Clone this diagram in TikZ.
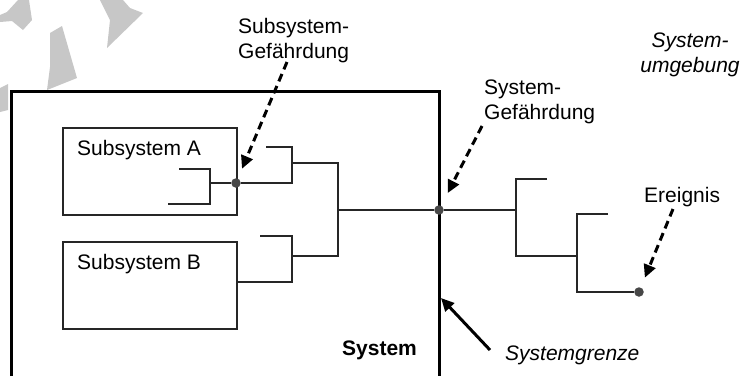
\documentclass[tikz,border=0pt]{standalone}
\usepackage{fontspec}
\setmainfont{Liberation Sans}
\usetikzlibrary{arrows.meta}
\begin{document}
\begin{tikzpicture}[x=1pt,y=-1pt,
  wire/.style={line width=1.6pt, draw=black!85},
  boxstyle/.style={draw=black!85, line width=1.8pt, inner sep=0pt, anchor=north west},
  dot/.style={circle, fill=black!72, inner sep=0pt, minimum size=9.5pt},
  hazard/.style={line width=3pt, dash pattern=on 8pt off 5pt, shorten >=#1, -{Triangle[length=13pt,width=12pt]}},
  lbl/.style={inner sep=0pt, font=\fontsize{21}{25}\selectfont},
  watermark/.style={fill=black!22}]
\useasboundingbox (0,0) rectangle (740,376);
% watermark
\fill[watermark] (18,0) -- (29,0) -- (32,20) -- (23,30) -- (12,21) -- (0,22) -- (0,15) -- (7,12) -- cycle;
\fill[watermark] (50,33) -- (62,26) -- (77,78) -- (47,90) -- (50,67) -- cycle;
\fill[watermark] (100,0) -- (123,0) -- (130,8) -- (143,13) -- (107,48) -- (110,20) -- cycle;
\fill[watermark] (0,88) -- (8,84) -- (8,110) -- (0,112) -- cycle;
% system boundary
\draw[line width=3pt] (11,376) -- (11,91) -- (439,91) -- (439,376);
% subsystems
\node[boxstyle, minimum width=174pt, minimum height=87pt] (A) at (62,127) {};
\node[boxstyle, minimum width=174pt, minimum height=87pt] (B) at (62,241) {};
\node[lbl, anchor=base west] (tA) at (77,155) {Subsystem A};
\node[lbl, anchor=base west] (tB) at (77,269) {Subsystem B};
% dots
\node[dot] (dA) at (236,183) {};
\node[dot] (dS) at (439,210) {};
\node[dot] (dE) at (639,292) {};
% tree inside A
\draw[wire] (179,169) -- (210,169) -- (210,204) -- (168,204);
\draw[wire] (210,183) -- (dA);
% subsystem level gates
\draw[wire] (dA) -- (292,183) -- (292,147) -- (266,147);
\draw[wire] (260,236) -- (292,236) -- (292,282) -- (B.east |- 0,282);
\draw[wire] (292,163) -- (338,163) -- (338,256) -- (292,256);
\draw[wire] (338,210) -- (dS);
% outside
\draw[wire] (dS) -- (516,210);
\draw[wire] (547,179) -- (516,179) -- (516,256) -- (577,256);
\draw[wire] (608,214) -- (577,214) -- (577,292) -- (dE);
% labels
\node[lbl, anchor=north west, align=left] (lSub) at (238,18) {Subsystem-\\Gefährdung};
\node[lbl, anchor=north west, align=left] (lSys) at (484,80) {System-\\Gefährdung};
\node[lbl, anchor=north, align=center, font=\fontsize{21}{25}\selectfont\itshape] (lEnv) at (690,33) {System-\\umgebung};
\node[lbl, anchor=base west] (lEv) at (644,202) {Ereignis};
\node[lbl, anchor=base west, font=\fontsize{21}{25}\selectfont\bfseries] (lSystem) at (342,355) {System};
\node[lbl, anchor=base west, font=\fontsize{21}{25}\selectfont\itshape] (lGrenze) at (505,360) {Systemgrenze};
% arrows
\coordinate (sA) at (287,62);
\coordinate (sS) at (482,126);
\coordinate (sE) at (673,209);
\coordinate (sG) at (490,350);
\coordinate (eG) at (441,298);
\draw[hazard=10.5pt] (sA) -- (dA);
\draw[hazard=14pt] (sS) -- (dS);
\draw[hazard=10.5pt] (sE) -- (dE);
\draw[line width=3pt, -{Triangle[length=13pt,width=12pt]}] (sG) -- (eG);
\end{tikzpicture}
\end{document}
